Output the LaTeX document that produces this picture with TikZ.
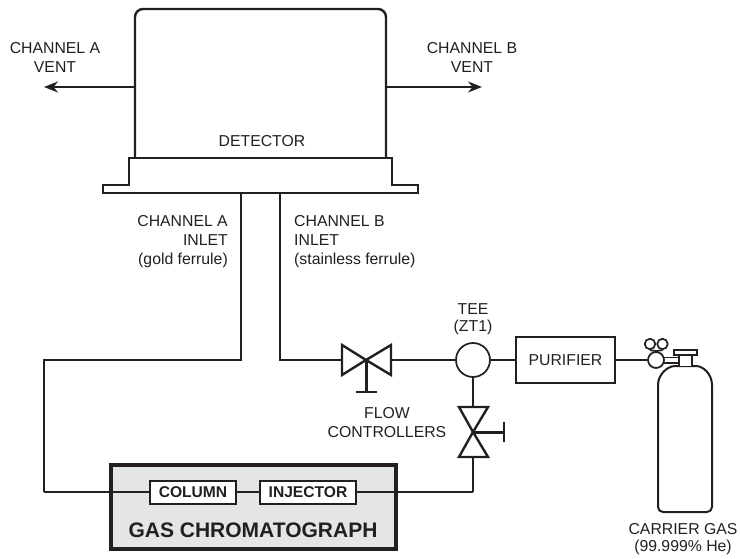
\documentclass[tikz,border=0pt]{standalone}
\usepackage{fontspec}
\setmainfont{Liberation Sans}
\usetikzlibrary{positioning,arrows.meta}
\definecolor{inkgray}{HTML}{231F20}
\definecolor{gcgray}{HTML}{E4E5E7}

\begin{document}
\begin{tikzpicture}[%
x=1pt,y=-1pt,
>={Stealth[length=14pt,width=11pt]},
pipe/.style={draw=inkgray,line width=1.7pt},
heavy/.style={draw=inkgray,line width=2.4pt,line join=miter},
label/.style={text=inkgray,font=\fontsize{15.8}{19}\selectfont,align=center,inner sep=0pt},
tightlabel/.style={label,font=\fontsize{15.8}{17}\selectfont},
unit/.style={rectangle,draw=inkgray,line width=1.7pt,fill=white,text=inkgray,inner sep=0pt},
gcunit/.style={unit,line width=2pt,font=\bfseries\fontsize{15.6}{17}\selectfont,minimum height=23pt},
joint/.style={circle,draw=inkgray,line width=1.7pt,fill=white,inner sep=0pt}
]
\useasboundingbox (0,0) rectangle (740,559);
% gas chromatograph
\node[rectangle,draw=inkgray,fill=gcgray,line width=4pt,minimum width=285pt,minimum height=83.5pt,inner sep=0pt] (gc) at (253.5,507) {};
\coordinate (bendC) at (44,492);
\coordinate (bendE) at (473,492);
\draw[pipe] (bendC) -- (bendE);
\node[gcunit,minimum width=86pt] (column) at (193,492) {COLUMN};
\node[gcunit,minimum width=96pt] (injector) at (308,492) {INJECTOR};
\node[text=inkgray,font=\bfseries\fontsize{21}{23}\selectfont,inner sep=0pt] (gclabel) at (253,530.5) {GAS CHROMATOGRAPH};
% detector
\draw[heavy,fill=white,rounded corners=8pt] (135,158) -- (135,9) -- (386,9) -- (386,158);
\draw[heavy] (103,193) -- (103,185) -- (129,185) -- (129,158) -- (392,158) -- (392,185) -- (418,185) -- (418,193) -- cycle;
\node[label] (detector) at (262,141) {DETECTOR};
\coordinate (ventA) at (135,87);
\coordinate (ventB) at (386,87);
\coordinate (endA) at (44,87);
\coordinate (endB) at (482,87);
\draw[pipe,->] (ventA) -- (endA);
\draw[pipe,->] (ventB) -- (endB);
\node[label] (ventAlabel) at (55,57) {CHANNEL A\\VENT};
\node[label] (ventBlabel) at (472,57) {CHANNEL B\\VENT};
\node[label,align=right,anchor=east] (inletA) at (228,242) {CHANNEL A\\INLET\\(gold ferrule)};
\node[label,align=left,anchor=west] (inletB) at (294,242) {CHANNEL B\\INLET\\(stainless ferrule)};
% flow controllers
\coordinate (valveH) at (366,360);
\coordinate (valveV) at (473,432);
\coordinate (portHa) at (342,360);
\coordinate (portHb) at (391,360);
\coordinate (portVa) at (473,407);
\coordinate (portVb) at (473,457);
\draw[heavy] (valveH) -- (342,345) -- (342,375) -- cycle;
\draw[heavy] (valveH) -- (391,345) -- (391,375) -- cycle;
\draw[heavy] (valveV) -- (459,407) -- (488,407) -- cycle;
\draw[heavy] (valveV) -- (459,457) -- (488,457) -- cycle;
\draw[heavy,line width=3pt] (valveH) -- (366,392);
\draw[heavy] (356,392) -- (377,392);
\draw[heavy,line width=3pt] (valveV) -- (504,432);
\draw[heavy] (504,422) -- (504,442);
\node[label] (flowlabel) at (387,422.5) {FLOW\\CONTROLLERS};
% tee and purifier
\node[joint,minimum size=34pt] (tee) at (473,360) {};
\node[tightlabel] (teelabel) at (473,319) {TEE\\(ZT1)};
\node[unit,label,draw=inkgray,line width=1.7pt,minimum width=99pt,minimum height=46pt] (purifier) at (565.5,360) {PURIFIER};
% carrier gas
\draw[heavy,rounded corners=5pt,line width=2pt] (658,512) -- (658,390) .. controls (658,374) and (668,366) .. (680,366) -- (691,366) .. controls (703,366) and (712,374) .. (712,390) -- (712,512) -- cycle;
\draw[heavy,fill=white,line width=2pt] (679,366) -- (679,355) -- (692,355) -- (692,366);
\draw[heavy,fill=white,line width=2pt] (674,350) rectangle (697,355);
\draw[pipe,line width=1.2pt] (663,357.5) -- (679,357.5) (663,363) -- (679,363);
\node[joint,minimum size=16pt] (regulator) at (656,360) {};
\node[joint,minimum size=10.5pt] (gaugeA) at (650,344) {};
\node[joint,minimum size=10.5pt] (gaugeB) at (662.5,344) {};
\node[tightlabel] (gaslabel) at (683,539.5) {CARRIER GAS\\(99.999\% He)};
% piping
\coordinate (bendA) at (241,360);
\coordinate (bendB) at (44,360);
\coordinate (bendD) at (280,360);
\coordinate (baseA) at (241,193);
\coordinate (baseB) at (280,193);
\draw[pipe] (baseA) -- (bendA) -- (bendB) -- (bendC);
\draw[pipe] (baseB) -- (bendD) -- (portHa);
\draw[pipe] (portHb) -- (tee.west);
\draw[pipe] (tee.east) -- (purifier.west);
\draw[pipe] (purifier.east) -- (regulator.west);
\draw[pipe] (tee.south) -- (portVa);
\draw[pipe] (portVb) -- (bendE);
\draw[pipe] (regulator.north) -- (gaugeA.south);
\draw[pipe] (regulator.north) -- (gaugeB.south);
\end{tikzpicture}
\end{document}
